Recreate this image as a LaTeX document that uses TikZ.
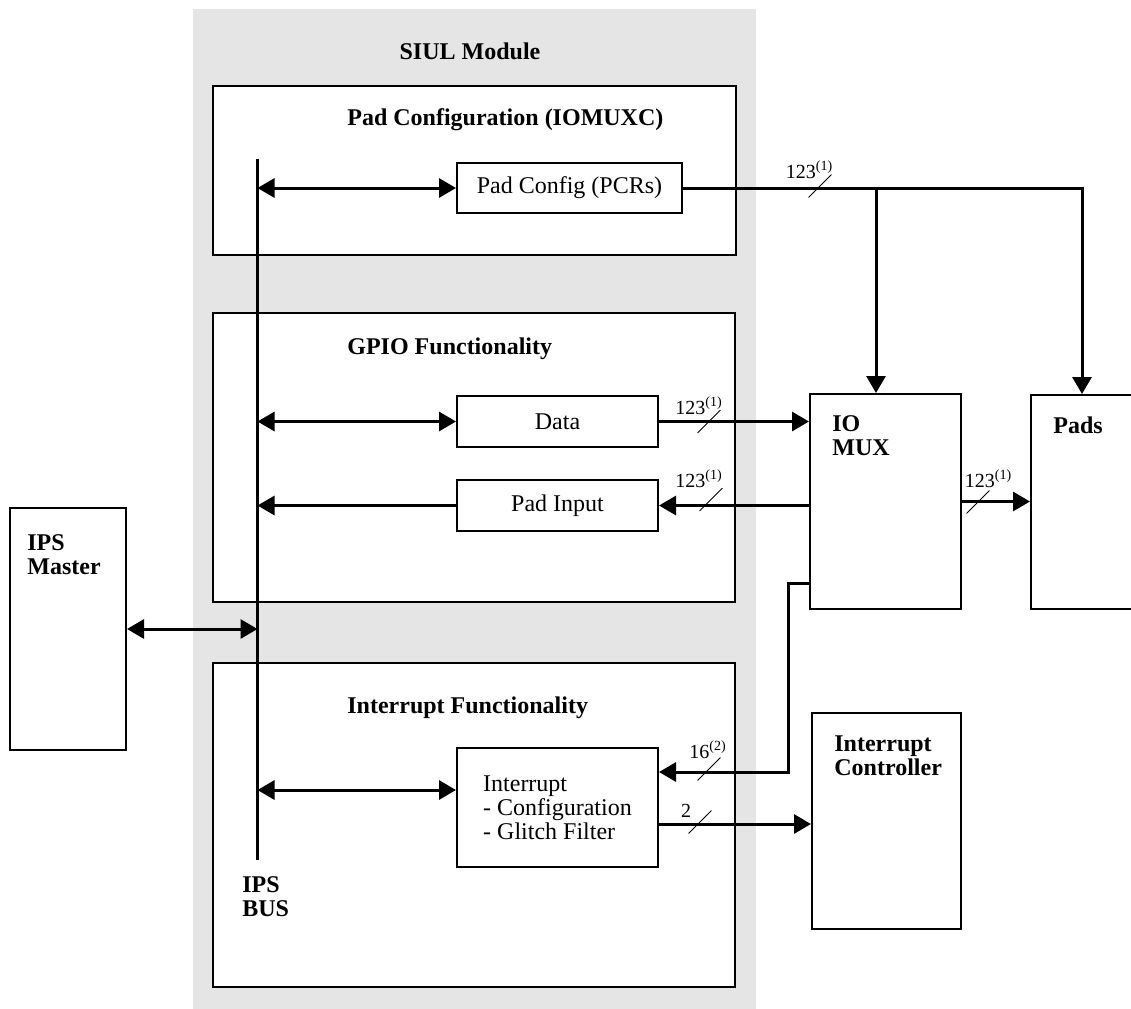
\documentclass[tikz,border=0pt]{standalone}
\usepackage{fontspec}
\setmainfont{Liberation Serif}
\usetikzlibrary{arrows.meta}
\definecolor{siulgray}{RGB}{229,229,229}

\begin{document}
\begin{tikzpicture}[
    x=0.5pt, y=-0.5pt,
    every node/.style={font=\fontsize{12}{12}\selectfont},
    blk/.style={
        rectangle,
        draw,
        line width=1pt,
        inner sep=0pt,
        align=center
    },
    title/.style={
        font=\fontsize{12}{12}\selectfont\bfseries,
        inner sep=0pt,
        align=left,
        anchor=base west
    },
    conn/.style={
        -{Triangle[length=8.5pt,width=9.5pt]},
        line width=1.5pt
    },
    dconn/.style={
        {Triangle[length=8.5pt,width=9.5pt]}-{Triangle[length=8.5pt,width=9.5pt]},
        line width=1.5pt
    },
    wmark/.style={minimum size=11pt, inner sep=0pt},
    wlbl/.style={font=\fontsize{10}{10}\selectfont, inner sep=0pt, anchor=base},
    slash/.style={line width=0.5pt}
]
\useasboundingbox (0,0) rectangle (1131,1008);

% SIUL module background
\node[fill=siulgray, minimum width=281.5pt, minimum height=503pt, inner sep=0pt] (siul) at (474.5,512) {};
\node[title, anchor=base] (siultxt) at (470,59) {SIUL Module};

% sub-blocks
\node[blk, fill=white, minimum width=261.5pt, minimum height=84.5pt] (padcfg) at (474,170.5) {};
\node[blk, fill=white, minimum width=261pt, minimum height=144.5pt] (gpio) at (474,457.5) {};
\node[blk, fill=white, minimum width=261pt, minimum height=162pt] (intf) at (474,825) {};
\node[title] (padcfgtxt) at (347,125) {Pad Configuration (IOMUXC)};
\node[title] (gpiotxt) at (347,354) {GPIO Functionality};
\node[title] (intftxt) at (347,713) {Interrupt Functionality};

\node[blk, minimum width=112.5pt, minimum height=25pt] (pcr) at (569.5,188) {Pad Config (PCRs)};
\node[blk, minimum width=100.5pt, minimum height=25.5pt] (data) at (557.5,421.5) {Data};
\node[blk, minimum width=100.5pt, minimum height=25.5pt] (padin) at (557.5,505.5) {Pad Input};
\node[blk, align=left, minimum width=100.5pt, minimum height=59.5pt] (irq) at (557.5,807.5) {Interrupt\\- Configuration\\- Glitch Filter};

% outside blocks
\node[blk, minimum width=58pt, minimum height=121pt] (master) at (68,629) {};
\node[blk, minimum width=75.5pt, minimum height=107.5pt] (mux) at (885.5,501.5) {};
\node[blk, minimum width=51pt, minimum height=107pt] (pads) at (1082,502) {};
\node[blk, minimum width=74.5pt, minimum height=108pt] (ctrl) at (886.5,821) {};
\node[title] (mastertxt) at (27,574) {IPS\\Master};
\node[title] (muxtxt) at (832,455) {IO\\MUX};
\node[title] (padstxt) at (1053,433) {Pads};
\node[title] (ctrltxt) at (834,775) {Interrupt\\Controller};

% IPS bus
\coordinate (bustop) at (257.5,159);
\coordinate (busbot) at (257.5,860);
\draw[line width=1.5pt] (bustop) -- (busbot);
\node[title] (bustxt) at (242,916) {IPS\\BUS};

\coordinate (irqin) at ([yshift=8.75pt]irq.west);
\coordinate (irqsrc) at ([yshift=13.5pt]mux.south west);
\coordinate (irqret) at ([yshift=17.75pt]irq.east);
\coordinate (irqout) at ([yshift=-8.25pt]irq.east);
\coordinate (pcrtap) at (876,188);

\draw[dconn] (master.east) -- (bustop |- master.east);
\draw[dconn] (bustop |- pcr.west) -- (pcr.west);
\draw[dconn] (bustop |- data.west) -- (data.west);
\draw[conn] (padin.west) -- (bustop |- padin.west);
\draw[dconn] (bustop |- irqin) -- (irqin);

\draw[conn] (pcr.east) -| (pads.north);
\draw[conn] (pcrtap) -- (pcrtap |- mux.north);
\draw[conn] (data.east) -- (data.east -| mux.west);
\draw[conn] (mux.west |- padin.east) -- (padin.east);
\draw[conn] (mux.east) -- (mux.east -| pads.west);
\draw[conn] (irqsrc) -- ++(-21,0) |- (irqret);
\draw[conn] (irqout) -- (irqout -| ctrl.west);

% bus width marks
\node[wmark] (w1) at (820,186) {};
\draw[slash] (w1.south west) -- (w1.north east);
\node[wlbl] (w1l) at (809.5,178) {123\textsuperscript{(1)}};
\node[wmark] (w2) at (709,421.5) {};
\draw[slash] (w2.south west) -- (w2.north east);
\node[wlbl] (w2l) at (699,414) {123\textsuperscript{(1)}};
\node[wmark] (w3) at (711,499.5) {};
\draw[slash] (w3.south west) -- (w3.north east);
\node[wlbl] (w3l) at (699,487) {123\textsuperscript{(1)}};
\node[wmark] (w4) at (978,502) {};
\draw[slash] (w4.south west) -- (w4.north east);
\node[wlbl] (w4l) at (988.5,487) {123\textsuperscript{(1)}};
\node[wmark] (w5) at (709,769) {};
\draw[slash] (w5.south west) -- (w5.north east);
\node[wlbl] (w5l) at (708,758) {16\textsuperscript{(2)}};
\node[wmark] (w6) at (700,822) {};
\draw[slash] (w6.south west) -- (w6.north east);
\node[wlbl] (w6l) at (686,817) {2};

\end{tikzpicture}
\end{document}
